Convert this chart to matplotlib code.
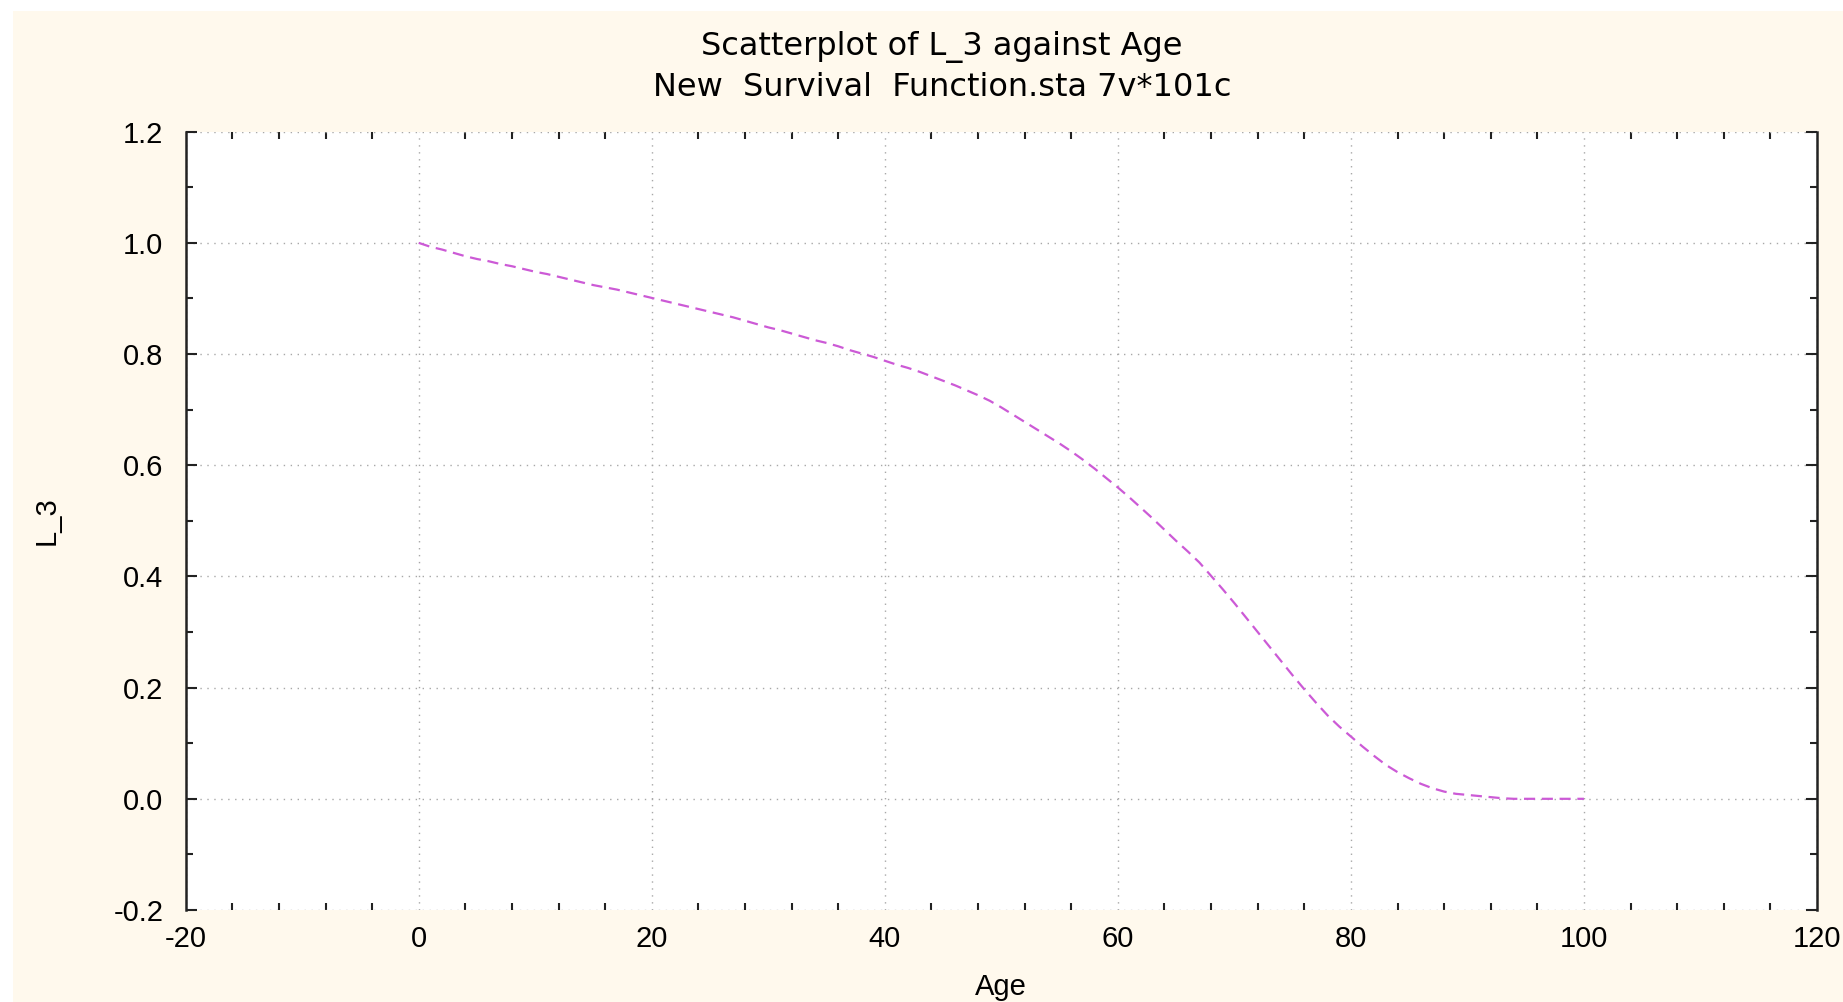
import numpy as np
import matplotlib
matplotlib.use("Agg")
import matplotlib.pyplot as plt
from matplotlib.patches import Rectangle
from matplotlib.ticker import MultipleLocator, FormatStrFormatter

plt.rcParams['font.family'] = ['Liberation Sans', 'DejaVu Sans']
plt.rcParams['axes.unicode_minus'] = False

# 101 cases, one per age (0..100)
age = list(range(0, 101))
l_3 = [
    1.000, 0.993, 0.988, 0.982, 0.976, 0.971, 0.967, 0.962, 0.958, 0.953,
    0.948, 0.944, 0.939, 0.934, 0.929, 0.924, 0.920, 0.916, 0.911, 0.906,
    0.901, 0.896, 0.891, 0.886, 0.881, 0.876, 0.871, 0.866, 0.860, 0.854,
    0.848, 0.843, 0.837, 0.831, 0.825, 0.820, 0.814, 0.807, 0.801, 0.795,
    0.788, 0.781, 0.775, 0.768, 0.760, 0.752, 0.744, 0.735, 0.726, 0.716,
    0.704, 0.691, 0.678, 0.665, 0.652, 0.639, 0.625, 0.610, 0.594, 0.577,
    0.560, 0.542, 0.523, 0.504, 0.484, 0.464, 0.445, 0.425, 0.401, 0.377,
    0.352, 0.326, 0.300, 0.274, 0.248, 0.222, 0.197, 0.173, 0.150, 0.130,
    0.112, 0.094, 0.077, 0.061, 0.048, 0.037, 0.027, 0.019, 0.013, 0.009,
    0.007, 0.005, 0.003, 0.001, 0.000, 0.000, 0.000, 0.000, 0.000, 0.000,
    0.000,
]

title = "Scatterplot of L_3 against Age"
subtitle = "New  Survival  Function.sta 7v*101c"

W, H = 1843, 1002
fig = plt.figure(figsize=(W / 100, H / 100), dpi=100, facecolor='white')

# cream panel behind everything
fig.patches.append(Rectangle((13 / W, 0), 1 - 13 / W, 1 - 11 / H,
                             transform=fig.transFigure, facecolor='#FFF9ED',
                             edgecolor='none', zorder=-5))

ax = fig.add_axes([185.7 / W, 1 - 910 / H, (1817 - 185.7) / W, (910 - 131.7) / H])
ax.set_facecolor('white')

ax.plot(age, l_3, color='#CC5AD6', lw=1.6, linestyle=(0, (5, 3)), zorder=3)

ax.set_xlim(-20, 120)
ax.set_ylim(-0.2, 1.2)
ax.xaxis.set_major_locator(MultipleLocator(20))
ax.xaxis.set_minor_locator(MultipleLocator(4))
ax.yaxis.set_major_locator(MultipleLocator(0.2))
ax.yaxis.set_minor_locator(MultipleLocator(0.1))
ax.yaxis.set_major_formatter(FormatStrFormatter('%.1f'))

ax.grid(which='major', color='#A8A8A8', lw=1.0, linestyle=(0, (1, 4)))

for s in ['top', 'bottom']:
    ax.spines[s].set_visible(False)
for s in ['left', 'right']:
    ax.spines[s].set_linewidth(1.8)
    ax.spines[s].set_color('#222222')

ax.tick_params(axis='both', which='both', direction='in', top=True, right=True,
               color='#222222', labelsize=21)
ax.tick_params(axis='x', which='major', length=0, pad=11)
ax.tick_params(axis='x', which='minor', length=5, width=1.5)
ax.tick_params(axis='y', which='major', length=8, width=1.5, pad=16)
ax.tick_params(axis='y', which='minor', length=5, width=1.5)

ax.set_xlabel('Age', fontsize=21, labelpad=14)
fig.text(47 / W, 1 - 521 / H, 'L_3', rotation=90, fontsize=21,
         ha='center', va='center')

tfont = dict(fontsize=23, family='DejaVu Sans', ha='center', va='center')
fig.text(942 / W, 1 - 47 / H, title, **tfont)
fig.text(942 / W, 1 - 87 / H, subtitle, **tfont)

fig.savefig('out.png', dpi=100, facecolor=fig.get_facecolor())
